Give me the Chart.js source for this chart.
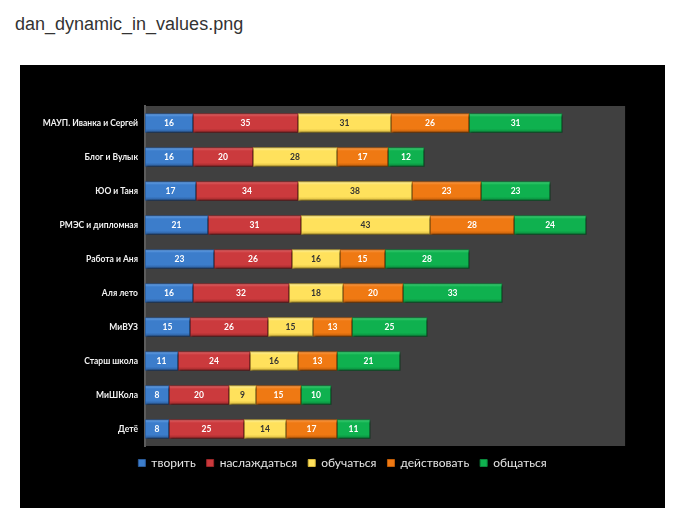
<!DOCTYPE html>
<html lang="ru">
<head>
    <meta charset="UTF-8">
    <title>dan_dynamic_in_values</title>
    <style>
        body { margin: 0; background: #fff; width: 684px; height: 526px; overflow: hidden; position: relative; }
        .title { position: absolute; left: 15px; top: 15px; font: 18px "Liberation Sans", Arial, sans-serif; line-height: 18px; color: #333; }
        .frame { position: absolute; left: 20px; top: 65px; width: 645px; height: 443px; background: #000; }
    </style>
    <script src="https://cdn.jsdelivr.net/npm/chart.js@4/dist/chart.umd.min.js"></script>
</head>
<body>
    <div class="title">dan_dynamic_in_values.png</div>
    <div class="frame">
        <canvas id="chart" width="645" height="443"></canvas>
    </div>
    <script>
        const categories = ['МАУП. Иванка и Сергей', 'Блог и Вулык', 'ЮО и Таня', 'РМЭС и дипломная', 'Работа и Аня',
            'Аля лето', 'МиВУЗ', 'Старш школа', 'МиШКола', 'Детё'];
        const seriesNames = ['творить', 'наслаждаться', 'обучаться', 'действовать', 'общаться'];
        const tvorit = [16, 16, 17, 21, 23, 16, 15, 11, 8, 8];
        const naslazhdatsya = [35, 20, 34, 31, 26, 32, 26, 24, 20, 25];
        const obuchatsya = [31, 28, 38, 43, 16, 18, 15, 16, 9, 14];
        const deystvovat = [26, 17, 23, 28, 15, 20, 13, 13, 15, 17];
        const obshchatsya = [31, 12, 23, 24, 28, 33, 25, 21, 10, 11];
        const plotMax = 160;   // right edge of the grey plot panel
        const axisMax = 173.3; // scale runs on past the panel so the legend centres on the frame

        // light / main / dark shades for the bevelled look
        const palette = [
            { light: '#6ea8ec', main: '#3c7dcb', dark: '#2a5a98', text: '#fff' },
            { light: '#e26a6c', main: '#cb3a3d', dark: '#9a2729', text: '#fff' },
            { light: '#fff3a0', main: '#ffe15c', dark: '#d6b63a', text: '#333' },
            { light: '#fca050', main: '#ef7913', dark: '#be5c08', text: '#fff' },
            { light: '#45d57a', main: '#0fb14f', dark: '#0a873b', text: '#fff' }
        ];
        const barHeight = 19;

        function bevel(ctx, shade) {
            const chart = ctx.chart;
            const y = chart.scales.y;
            if (!y || y.top === undefined) return shade.main;
            const cy = y.getPixelForValue(ctx.dataIndex);
            const g = chart.ctx.createLinearGradient(0, cy - barHeight / 2, 0, cy + barHeight / 2);
            g.addColorStop(0, shade.light);
            g.addColorStop(0.18, shade.main);
            g.addColorStop(0.8, shade.main);
            g.addColorStop(1, shade.dark);
            return g;
        }

        const series = [tvorit, naslazhdatsya, obuchatsya, deystvovat, obshchatsya];
        const datasets = series.map((values, i) => ({
            label: seriesNames[i],
            data: values,
            backgroundColor: ctx => bevel(ctx, palette[i]),
            borderColor: palette[i].dark,
            borderWidth: 1,
            borderSkipped: false,
            barThickness: barHeight
        }));

        const plotBackground = {
            id: 'plotBackground',
            beforeDraw(chart) {
                const { ctx, chartArea: a } = chart;
                const right = chart.scales.x.getPixelForValue(plotMax);
                ctx.save();
                ctx.fillStyle = '#404040';
                ctx.fillRect(a.left, a.top, right - a.left, a.bottom - a.top);
                ctx.restore();
            }
        };

        const barShadow = {
            id: 'barShadow',
            beforeDatasetsDraw(chart) {
                const ctx = chart.ctx;
                ctx.save();
                ctx.shadowColor = 'rgba(0,0,0,0.55)';
                ctx.shadowOffsetX = 1.5;
                ctx.shadowOffsetY = 1.5;
                ctx.shadowBlur = 2;
            },
            afterDatasetsDraw(chart) {
                chart.ctx.restore();
            }
        };

        const valueLabels = {
            id: 'valueLabels',
            afterDatasetsDraw(chart) {
                const ctx = chart.ctx;
                ctx.save();
                ctx.font = 'bold 8.5px Lato, sans-serif';
                ctx.textAlign = 'center';
                ctx.textBaseline = 'middle';
                chart.data.datasets.forEach((ds, i) => {
                    chart.getDatasetMeta(i).data.forEach((bar, j) => {
                        ctx.fillStyle = palette[i].text;
                        ctx.fillText(ds.data[j], (bar.x + bar.base) / 2, bar.y + 0.5);
                    });
                });
                ctx.restore();
            }
        };

        new Chart(document.getElementById('chart'), {
            type: 'bar',
            data: { labels: categories, datasets: datasets },
            options: {
                indexAxis: 'y',
                responsive: false,
                animation: false,
                layout: { padding: { top: 41, right: 0, bottom: 29, left: 0 } },
                scales: {
                    x: { stacked: true, min: 0, max: axisMax, display: false },
                    y: {
                        stacked: true,
                        grid: { display: false, drawTicks: false, tickLength: 0 },
                        border: { display: true, color: '#5c5c5c', width: 2 },
                        ticks: { color: '#f2f2f2', padding: 7, font: { family: 'Lato', size: 8.5, weight: 'bold' } },
                        afterFit(scale) { scale.width = 125; }
                    }
                },
                plugins: {
                    legend: {
                        position: 'bottom',
                        labels: {
                            color: '#e6e6e6',
                            boxWidth: 7,
                            boxHeight: 7,
                            padding: 11,
                            font: { family: 'Lato', size: 12 },
                            generateLabels(chart) {
                                return chart.data.datasets.map((ds, i) => ({
                                    text: ds.label,
                                    fillStyle: palette[i].main,
                                    strokeStyle: palette[i].dark,
                                    lineWidth: 1,
                                    fontColor: '#e6e6e6',
                                    datasetIndex: i
                                }));
                            }
                        }
                    },
                    tooltip: { enabled: false }
                }
            },
            plugins: [plotBackground, barShadow, valueLabels]
        });
    </script>
</body>
</html>
